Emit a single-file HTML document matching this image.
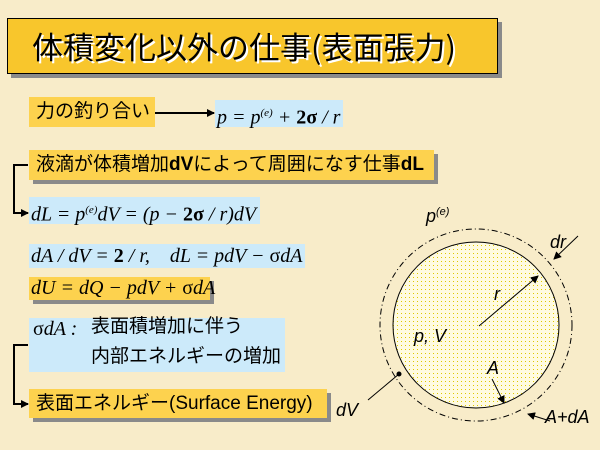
<!DOCTYPE html>
<html><head><meta charset="utf-8"><style>
body{margin:0;width:600px;height:450px;overflow:hidden;background:#f8ecc9;position:relative;font-family:"Liberation Sans","Noto Sans CJK JP",sans-serif}
.b{position:absolute;box-sizing:border-box}
.y{background:#fdd24e}
.bl{background:#cceafa}
.sh{box-shadow:4px 4px 0 #8a8a8a}
.t{font-size:19px;line-height:30px;padding-left:7px;white-space:nowrap;color:#000}
.m{font-family:"Liberation Serif",serif;font-style:italic;font-size:20px;white-space:nowrap;padding-left:2px}
</style></head><body>
<div class="b sh" style="left:7px;top:18px;width:491px;height:56px;background:#f8c62c;border:1px solid #000"></div>
<div class="b" style="left:32px;top:23px;font-size:31px;line-height:46px;font-family:'Noto Sans CJK JP',sans-serif;text-shadow:2px 2px 0 #fff;white-space:nowrap">体積変化以外の仕事(表面張力)</div>

<div class="b y t" style="left:29px;top:97px;width:126px;height:30px">力の釣り合い</div>
<div class="b bl m" style="left:215px;top:100px;width:128px;height:27px;line-height:27px">p = p<sup style="font-size:11px">(e)</sup> + <b style="font-style:normal">2σ</b> / r</div>

<div class="b y sh t" style="left:29px;top:150px;width:405px;height:30px">液滴が体積増加<b>dV</b>によって周囲になす仕事<b>dL</b></div>
<div class="b bl m" style="left:29px;top:197px;width:231px;height:27px;line-height:27px">dL = p<sup style="font-size:11px">(e)</sup>dV = (p − <b style="font-style:normal">2σ</b> / r)dV</div>
<div class="b bl m" style="left:29px;top:244px;width:276px;height:24px;line-height:24px">dA / dV = <b style="font-style:normal">2</b> / r, &nbsp;&nbsp; dL = pdV − <span style="font-style:normal">σ</span>dA</div>
<div class="b y sh m" style="left:29px;top:277px;width:181px;height:23px;line-height:23px">dU = dQ − pdV + <span style="font-style:normal">σ</span>dA</div>

<div class="b bl" style="left:29px;top:318px;width:256px;height:54px"></div>
<div class="b m" style="left:31px;top:315px;line-height:28px"><span style="font-style:normal">σ</span>dA :</div>
<div class="b t" style="left:91px;top:313px;line-height:28px;padding:0">表面積増加に伴う</div>
<div class="b t" style="left:91px;top:343px;line-height:28px;padding:0">内部エネルギーの増加</div>
<div class="b y sh t" style="left:29px;top:389px;width:298px;height:29px;line-height:29px">表面エネルギー(Surface Energy)</div>

<svg class="b" style="left:0;top:0" width="600" height="450">
<defs><marker id="a" markerWidth="8" markerHeight="8" refX="7" refY="4" orient="auto" markerUnits="userSpaceOnUse"><path d="M0,0L8,4L0,8z"/></marker>
<pattern id="d" width="4" height="4" patternUnits="userSpaceOnUse"><rect x="1" y="1" width="1" height="1" fill="#e0c800"/></pattern></defs>
<line x1="155" y1="113" x2="214" y2="113" stroke="#000" stroke-width="2" marker-end="url(#a)"/>
<path d="M28,165H14V213H28" fill="none" stroke="#000" stroke-width="2" marker-end="url(#a)"/>
<path d="M28,345H14V404H28" fill="none" stroke="#000" stroke-width="2" marker-end="url(#a)"/>
<circle cx="476" cy="325" r="96" fill="none" stroke="#000" stroke-width="1" stroke-dasharray="6,3,1,3"/>
<circle cx="476" cy="325" r="83" fill="#fffbe0"/>
<circle cx="476" cy="325" r="83" fill="url(#d)" stroke="#000" stroke-width="1"/>
<g stroke="#000" stroke-width="1" fill="none">
<line x1="479" y1="326" x2="538" y2="276" marker-end="url(#a)"/>
<line x1="578" y1="236" x2="554" y2="259" marker-end="url(#a)"/>
<line x1="492" y1="379" x2="504" y2="403" marker-end="url(#a)"/>
<line x1="550" y1="421" x2="528" y2="414" marker-end="url(#a)"/>
<line x1="368" y1="400" x2="399" y2="374"/>
</g>
<circle cx="399" cy="374" r="2.5"/>
<g font-family="Liberation Sans,sans-serif" font-style="italic" font-size="18">
<text x="426" y="222">p<tspan font-size="11" dy="-7">(e)</tspan></text>
<text x="550" y="248">dr</text>
<text x="494" y="300">r</text>
<text x="414" y="342">p, V</text>
<text x="487" y="374">A</text>
<text x="336" y="416">dV</text>
<text x="545" y="423">A+dA</text>
</g>
</svg>
</body></html>
